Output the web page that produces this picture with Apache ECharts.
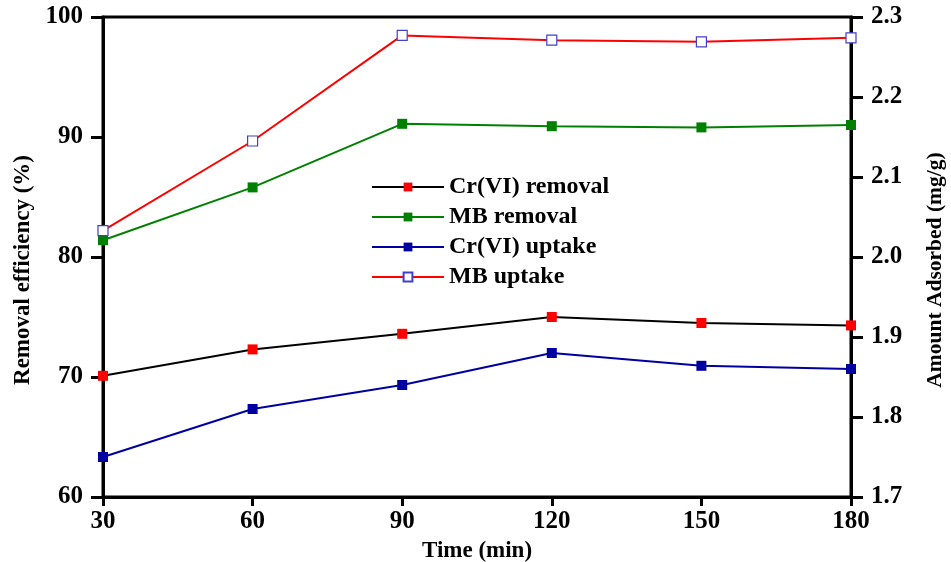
<!DOCTYPE html>
<html><head><meta charset="utf-8">
<script src="https://cdn.jsdelivr.net/npm/echarts@6/dist/echarts.min.js"></script>
<style>html,body{margin:0;padding:0;background:#fff}#c{width:951px;height:562px}</style>
</head><body><div id="c"></div>
<script>
var times = [30, 60, 90, 120, 150, 180];
var crRemoval = [70.1, 72.3, 73.6, 75.0, 74.5, 74.3];
var mbRemoval = [81.4, 85.8, 91.1, 90.9, 90.8, 91.0];
var crUptake = [1.750, 1.810, 1.840, 1.880, 1.864, 1.860];
var mbUptake = [2.033, 2.145, 2.277, 2.271, 2.269, 2.274];

function pairs(v){ return times.map(function(t,i){ return [t, v[i]]; }); }
var font = 'Liberation Serif';
var chart = echarts.init(document.getElementById('c'));
function axisBase(tickLen){
  return {
    axisLine:{show:true,lineStyle:{color:'#000',width:3}},
    axisTick:{show:true,length:tickLen,lineStyle:{color:'#000',width:3}},
    splitLine:{show:false}
  };
}
var labelStyle = {color:'#000',fontFamily:font,fontWeight:'bold',fontSize:25};
chart.setOption({
  animation:false,
  backgroundColor:'#fff',
  grid:{left:103,right:100,top:17,bottom:65,show:true,borderColor:'#000',borderWidth:3,backgroundColor:'transparent',outerBoundsMode:'none',containLabel:false},
  legend:{
    orient:'vertical', left:371, top:175, padding:0, itemGap:6, itemWidth:72, itemHeight:11,
    textStyle:{color:'#000',fontFamily:font,fontWeight:'bold',fontSize:24},
    data:['Cr(VI) removal','MB removal','Cr(VI) uptake','MB uptake']
  },
  xAxis:[Object.assign(axisBase(9), {
    type:'value', min:30, max:180, interval:30, position:'bottom',
    name:'Time (min)', nameLocation:'middle', nameGap:43,
    nameTextStyle:{color:'#000',fontFamily:font,fontWeight:'bold',fontSize:23},
    axisLabel:Object.assign({}, labelStyle, {margin:12})
  })],
  yAxis:[Object.assign(axisBase(12), {
    type:'value', min:60, max:100, interval:10, position:'left',
    name:'Removal efficiency (%)', nameLocation:'middle', nameGap:68,
    nameTextStyle:{color:'#000',fontFamily:font,fontWeight:'bold',fontSize:23,padding:[0,26,0,0]},
    axisLabel:Object.assign({}, labelStyle, {margin:20})
  }), Object.assign(axisBase(12), {
    type:'value', min:1.7, max:2.3, interval:0.1, position:'right',
    name:'Amount Adsorbed (mg/g)', nameLocation:'middle', nameGap:73, nameRotate:90,
    nameTextStyle:{color:'#000',fontFamily:font,fontWeight:'bold',fontSize:21.5,padding:[0,26,0,0]},
    axisLabel:Object.assign({}, labelStyle, {margin:20, formatter:function(v){return v.toFixed(1);}})
  })],
  series:[
    {name:'Cr(VI) removal', type:'line', yAxisIndex:0, data:pairs(crRemoval), symbol:'rect', symbolSize:10,
     lineStyle:{color:'#000',width:2}, itemStyle:{color:'#ff0000',borderWidth:0}},
    {name:'MB removal', type:'line', yAxisIndex:0, data:pairs(mbRemoval), symbol:'rect', symbolSize:10,
     lineStyle:{color:'#008000',width:2}, itemStyle:{color:'#008000',borderWidth:0}},
    {name:'Cr(VI) uptake', type:'line', yAxisIndex:1, data:pairs(crUptake), symbol:'rect', symbolSize:10,
     lineStyle:{color:'#0000a0',width:2}, itemStyle:{color:'#0000a0',borderWidth:0}},
    {name:'MB uptake', type:'line', yAxisIndex:1, data:pairs(mbUptake), symbol:'rect', symbolSize:10,
     lineStyle:{color:'#ff0000',width:2}, itemStyle:{color:'#ffffff',borderColor:'#4040c8',borderWidth:1.2}}
  ]
});
</script></body></html>
